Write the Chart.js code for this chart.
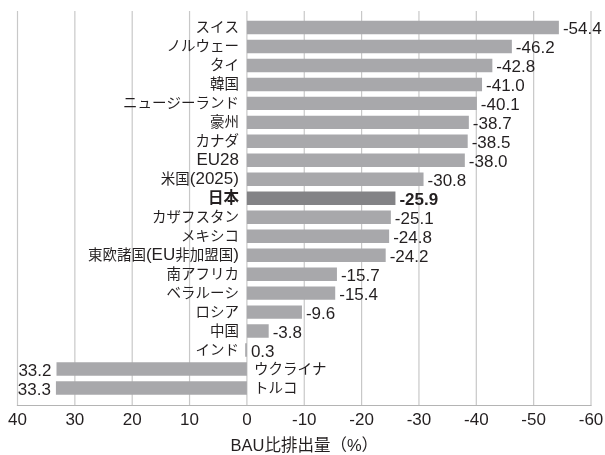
<!DOCTYPE html>
<html><head><meta charset="utf-8">
<script src="https://cdn.jsdelivr.net/npm/chart.js@4"></script>
<style>html,body{margin:0;padding:0;background:#fff}#wrap{width:605px;height:455px}</style>
</head><body><div id="wrap"><canvas id="c"></canvas></div>
<script>
const categories = ['スイス','ノルウェー','タイ','韓国','ニュージーランド','豪州','カナダ','EU28','米国(2025)','日本','カザフスタン','メキシコ','東欧諸国(EU非加盟国)','南アフリカ','ベラルーシ','ロシア','中国','インド','ウクライナ','トルコ'];
const values = [-54.4,-46.2,-42.8,-41.0,-40.1,-38.7,-38.5,-38.0,-30.8,-25.9,-25.1,-24.8,-24.2,-15.7,-15.4,-9.6,-3.8,0.3,33.2,33.3];
const highlight = '日本';
const xTicks = [40,30,20,10,0,-10,-20,-30,-40,-50,-60];
const axisTitle = 'BAU比排出量（%）';

const TEXT = '#231f20';
const LATIN = "'Liberation Sans', Arial, sans-serif";
const CJK = "'Noto Sans CJK JP', sans-serif";
Chart.defaults.font.family = "'Liberation Sans','Noto Sans CJK JP',sans-serif";
Chart.defaults.color = TEXT;

function isCJK(ch){ const c = ch.codePointAt(0); return c >= 0x2E80; }
function runs(text){
  const out = [];
  for (const ch of text){
    const k = isCJK(ch);
    if (out.length && out[out.length-1].cjk === k) out[out.length-1].t += ch;
    else out.push({t: ch, cjk: k});
  }
  return out;
}
function fontFor(r, bold){
  const b = bold ? 'bold ' : '';
  return r.cjk ? `${b}${bold ? 15.5 : 14.5}px ${CJK}` : `${b}17px ${LATIN}`;
}
function drawMixed(ctx, text, x, baseline, align, bold){
  const rs = runs(text);
  let total = 0;
  rs.forEach(r => { ctx.font = fontFor(r, bold); r.w = ctx.measureText(r.t).width; total += r.w; });
  let cx = align === 'right' ? x - total : x;
  ctx.textAlign = 'left'; ctx.textBaseline = 'alphabetic';
  rs.forEach(r => { ctx.font = fontFor(r, bold); ctx.fillText(r.t, cx, baseline); cx += r.w; });
}

const gridPlugin = {
  id: 'grid',
  beforeDatasetsDraw(chart){
    const {ctx, chartArea} = chart; const x = chart.scales.x;
    ctx.save();
    ctx.strokeStyle = '#c8c8c8'; ctx.lineWidth = 1.2;
    const top = chartArea.top - 7, bot = chartArea.bottom + 8;
    xTicks.forEach(v => {
      const px = x.getPixelForValue(v);
      ctx.beginPath(); ctx.moveTo(px, top); ctx.lineTo(px, bot); ctx.stroke();
    });
    ctx.strokeStyle = '#b4b4b4';
    ctx.beginPath(); ctx.moveTo(x.getPixelForValue(xTicks[0]) - 0.6, bot); ctx.lineTo(x.getPixelForValue(xTicks[xTicks.length-1]) + 0.6, bot); ctx.stroke();
    ctx.restore();
  }
};
const labelPlugin = {
  id: 'labels',
  afterDatasetsDraw(chart){
    const {ctx} = chart; const x = chart.scales.x;
    const zero = x.getPixelForValue(0);
    const meta = chart.getDatasetMeta(0);
    ctx.save(); ctx.fillStyle = TEXT;
    meta.data.forEach((bar, i) => {
      const v = values[i]; const bold = categories[i] === highlight;
      const cy = bar.y;
      const txt = v.toFixed(1);
      ctx.textBaseline = 'alphabetic';
      if (v >= 1){
        drawMixed(ctx, categories[i], zero + 7, cy + 5, 'left', bold);
        ctx.font = `${bold ? 'bold ' : ''}17px ${LATIN}`;
        ctx.textAlign = 'right'; ctx.fillText(txt, bar.x - 5, cy + 6.8);
      } else {
        drawMixed(ctx, categories[i], zero - 8, cy + 5, 'right', bold);
        ctx.font = `${bold ? 'bold ' : ''}17px ${LATIN}`;
        ctx.textAlign = 'left'; ctx.fillText(txt, Math.max(bar.x, zero) + 4, cy + 6.8);
      }
    });
    ctx.restore();
  }
};

new Chart(document.getElementById('c'), {
  type: 'bar',
  data: {
    labels: categories,
    datasets: [{
      data: values,
      backgroundColor: categories.map(c => c === highlight ? '#838386' : '#a8a8ab'),
      barPercentage: 0.71,
      categoryPercentage: 1.0
    }]
  },
  options: {
    indexAxis: 'y',
    responsive: true,
    maintainAspectRatio: false,
    animation: false,
    devicePixelRatio: 1,
    layout: { padding: { left: 17.5, right: 14, top: 18, bottom: 0 } },
    scales: {
      x: {
        type: 'linear', reverse: true, min: -60, max: 40,
        afterBuildTicks: s => { s.ticks = xTicks.map(v => ({value: v})); },
        afterFit: s => { s.paddingLeft = 0; s.paddingRight = 0; },
        ticks: { font: { size: 17, family: LATIN }, color: TEXT, padding: 13, autoSkip: false, maxRotation: 0 },
        grid: { display: false, drawTicks: false },
        border: { display: false },
        title: { display: true, text: axisTitle, color: TEXT, font: { size: 16.5, lineHeight: 1 }, padding: { top: -5.4, bottom: 0 } }
      },
      y: { display: false }
    },
    plugins: { legend: { display: false }, tooltip: { enabled: false } }
  },
  plugins: [gridPlugin, labelPlugin]
});
</script>
</body></html>
